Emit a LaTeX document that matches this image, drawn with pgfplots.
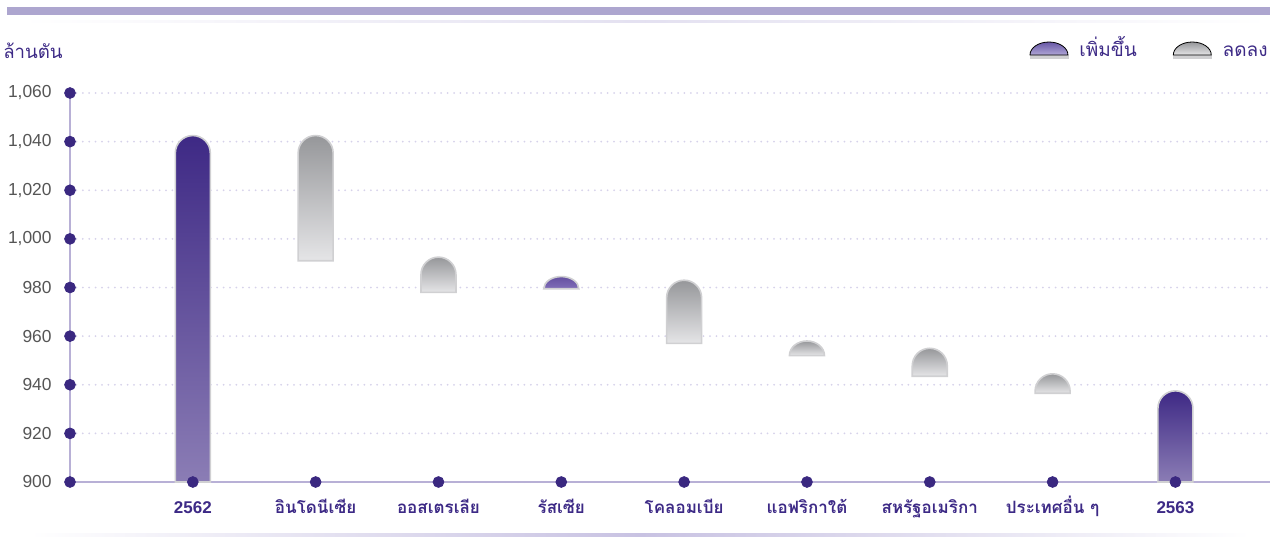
\documentclass[border=0pt]{standalone}
\usepackage{fontspec}
\setmainfont{Liberation Sans}
\newfontfamily\thaifont[Script=Thai]{Loma}
\usepackage{pgfplots}
\usepackage{pgfplotstable}
\pgfplotsset{compat=1.18}

\definecolor{titlepurple}{RGB}{61,42,134}
\definecolor{tickgray}{RGB}{85,85,85}
\definecolor{dotpurple}{RGB}{58,40,128}
\definecolor{axislav}{RGB}{184,176,214}
\definecolor{gridlav}{RGB}{214,210,234}
\definecolor{bandlav}{RGB}{173,166,207}
\definecolor{fadelav}{RGB}{200,194,226}
\definecolor{totaltop}{RGB}{62,41,133}
\definecolor{totalbot}{RGB}{139,125,181}
\definecolor{downtop}{RGB}{150,151,154}
\definecolor{downbot}{RGB}{229,229,231}
\definecolor{uptop}{RGB}{100,80,160}
\definecolor{upbot}{RGB}{128,110,184}
\definecolor{legup1}{RGB}{104,88,166}
\definecolor{legup2}{RGB}{176,166,214}
\definecolor{barEdge}{RGB}{208,208,210}

\pgfdeclareplotmark{nothing}{}

% waterfall steps, in million tonnes: x = category, low/high = ends of the bar
\pgfplotstableread{
x low high
0 900 1042.5
8 900 937.5
}\totals
\pgfplotstableread{
x low high
3 979.5 984.5
}\ups
\pgfplotstableread{
x low high
1 991 1042.5
2 978 992.5
4 957 983
5 952 958
6 943.5 955
7 936.5 944.5
}\downs

% each bar: flat bottom, rounded top, drawn from its data point
\pgfplotsset{
  wfbar/.style n args={3}{
    only marks, mark=nothing, scatter,
    visualization depends on={\thisrow{low} \as \lowv},
    visualization depends on={\thisrow{high} \as \highv},
    scatter/@pre marker code/.code={%
      \pgfplotspointaxisxy{0}{\lowv}\pgfgetlastxy{\wfxa}{\wfya}%
      \pgfplotspointaxisxy{0}{\highv}\pgfgetlastxy{\wfxb}{\wfyb}%
      \pgfmathsetlengthmacro\wfh{\wfyb-\wfya}%
      \pgfmathsetlengthmacro\wfr{min(\wfh,8.75pt)}%
      \shade[top color=#1, bottom color=#2, draw=#3, line width=0.8pt]
        (-8.75pt,-\wfh) -- (-8.75pt,-\wfr)
        arc[start angle=180, end angle=0, x radius=8.75pt, y radius=\wfr]
        -- (8.75pt,-\wfh) -- cycle;
    },
    scatter/@post marker code/.code={},
  },
  legdome/.style 2 args={
    legend image code/.code={
      \fill[barEdge] (0pt,-4.5pt) rectangle (19pt,-3pt);
      \shade[top color=#1, bottom color=#2] (0pt,-3pt)
        arc[start angle=180, end angle=0, x radius=9.5pt, y radius=6.5pt] -- cycle;
    },
  },
}

\begin{document}
\begin{tikzpicture}
\useasboundingbox (-35pt,-30pt) rectangle (605pt,241pt);

\fill[bandlav] (-31.5pt,233.5pt) rectangle (600pt,237.5pt);
\shade[left color=white, right color=white, middle color=fadelav!50] (-25pt,229.8pt) rectangle (600pt,230.8pt);
\shade[left color=white, right color=white, middle color=fadelav] (-20pt,-27.2pt) rectangle (590pt,-25.6pt);

\begin{axis}[
  scale only axis, width=600pt, height=194.5pt,
  xmin=-1, xmax=8.77, ymin=900, ymax=1060,
  clip=false,
  axis lines*=left,
  axis line style={axislav, line width=0.8pt},
  major tick length=0pt,
  ytick={900,920,...,1060},
  xtick={0,...,8},
  xticklabels={2562, {\thaifont อินโดนีเซีย}, {\thaifont ออสเตรเลีย}, {\thaifont รัสเซีย}, {\thaifont โคลอมเบีย}, {\thaifont แอฟริกาใต้}, {\thaifont สหรัฐอเมริกา}, {\thaifont ประเทศอื่น ๆ}, 2563},
  xticklabel style={font=\bfseries\fontsize{8.5}{10}\selectfont, text=titlepurple, anchor=base, yshift=-15.5pt},
  yticklabel style={font=\fontsize{8.7}{10}\selectfont, text=tickgray, anchor=east, inner sep=0pt, xshift=-9pt,
    /pgf/number format/1000 sep={,}, /pgf/number format/assume math mode=true},
  ymajorgrids,
  grid style={gridlav, line width=1pt, dash pattern=on 0pt off 3.2pt, line cap=round},
  legend columns=2,
  legend style={at={(axis description cs:1,1)}, anchor=east, xshift=-1pt, yshift=22pt,
    draw=none, fill=none, inner sep=0pt,
    column sep=5.5pt, /tikz/every even column/.append style={column sep=18pt},
    nodes={inner sep=0pt, text height=10pt, text depth=2.5pt, text=titlepurple, font=\thaifont\fontsize{9.5}{11}\selectfont}},
]
\addplot[wfbar={totaltop}{totalbot}{barEdge}, forget plot] table[x=x, y=high] {\totals};
\addplot[wfbar={uptop}{upbot}{barEdge}, legdome={legup1}{legup2}] table[x=x, y=high] {\ups};
\addlegendentry{เพิ่มขึ้น}
\addplot[wfbar={downtop}{downbot}{barEdge}, legdome={downtop}{downbot}] table[x=x, y=high] {\downs};
\addlegendentry{ลดลง}

\addplot[only marks, mark=*, mark size=2.7pt, dotpurple, forget plot]
  coordinates {(-1,900) (-1,920) (-1,940) (-1,960) (-1,980) (-1,1000) (-1,1020) (-1,1040) (-1,1060)};
\addplot[only marks, mark=*, mark size=2.7pt, dotpurple, forget plot]
  coordinates {(0,900) (1,900) (2,900) (3,900) (4,900) (5,900) (6,900) (7,900) (8,900)};
\end{axis}

\node[text=titlepurple, font=\thaifont\fontsize{9.3}{11}\selectfont] at (-18.5pt,215.5pt) {ล้านตัน};
\end{tikzpicture}
\end{document}
